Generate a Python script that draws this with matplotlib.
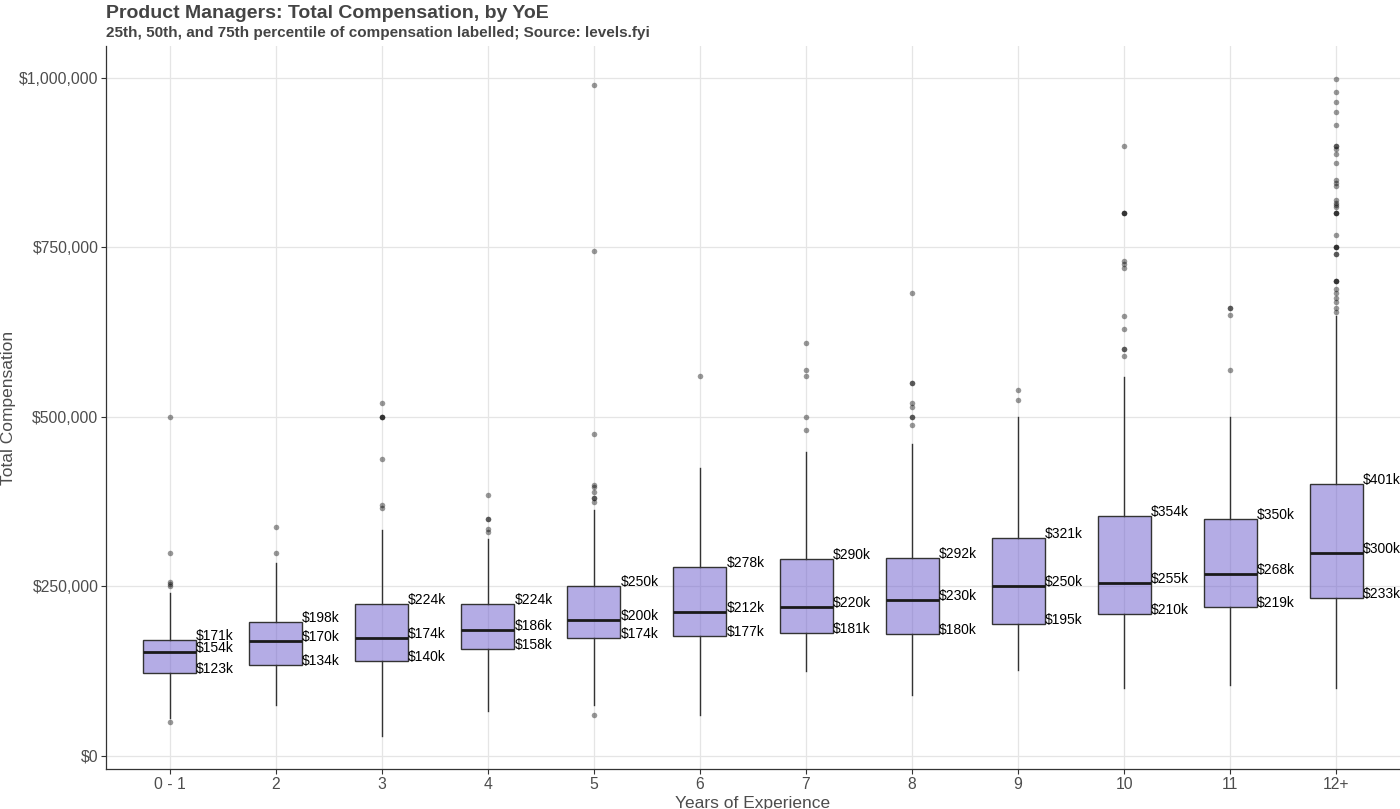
import matplotlib
matplotlib.use("Agg")
import matplotlib.pyplot as plt
import matplotlib.ticker as mtick

plt.rcParams['font.family'] = ['Liberation Sans', 'DejaVu Sans']

# years of experience groups
categories = ['0 - 1', '2', '3', '4', '5', '6', '7', '8', '9', '10', '11', '12+']

# box stats in $k
q1 = [123, 134, 140, 158, 174, 177, 181, 180, 195, 210, 219, 233]
med = [154, 170, 174, 186, 200, 212, 220, 230, 250, 255, 268, 300]
q3 = [171, 198, 224, 224, 250, 278, 290, 292, 321, 354, 350, 401]
whisker_lo = [56, 75, 30, 66, 75, 60, 125, 90, 127, 100, 105, 100]
whisker_hi = [240, 285, 333, 320, 363, 424, 448, 460, 500, 559, 500, 649]

# outliers in $k
fliers = [
    [500, 300, 256, 253, 250, 50],
    [338, 300],
    [520, 500, 500, 500, 438, 370, 365],
    [385, 350, 350, 335, 330],
    [990, 745, 475, 400, 396, 390, 380, 380, 375, 60],
    [560],
    [609, 569, 560, 500, 480],
    [683, 550, 550, 520, 514, 500, 500, 488],
    [540, 525],
    [900, 800, 800, 800, 730, 725, 720, 649, 630, 600, 600, 590],
    [660, 660, 650, 569],
    [998, 979, 964, 949, 930, 900, 900, 895, 887, 875, 850, 845, 840, 820,
     816, 813, 810, 800, 800, 800, 769, 750, 750, 750, 740, 740, 700, 700,
     700, 689, 683, 676, 670, 660, 655],
]

# build the stats bxp wants
stats = []
for i in range(len(categories)):
    stats.append({
        'label': categories[i],
        'q1': q1[i] * 1000,
        'med': med[i] * 1000,
        'q3': q3[i] * 1000,
        'whislo': whisker_lo[i] * 1000,
        'whishi': whisker_hi[i] * 1000,
        'fliers': [f * 1000 for f in fliers[i]],
    })

fig = plt.figure(figsize=(14, 8.09), dpi=100)
ax = fig.add_axes([106 / 1400, 1 - 769 / 809, 1 - 106 / 1400, (769 - 46) / 809])

positions = list(range(1, len(categories) + 1))
ax.bxp(stats, positions=positions, widths=0.5, patch_artist=True,
       showcaps=False,
       boxprops=dict(facecolor=(106 / 255, 90 / 255, 205 / 255, 0.5),
                     edgecolor='#333333', linewidth=1.0),
       medianprops=dict(color='#1a1a1a', linewidth=2.0),
       whiskerprops=dict(color='#333333', linewidth=1.0),
       flierprops=dict(marker='o', markersize=4, markerfacecolor='black',
                       markeredgecolor='none', alpha=0.4),
       zorder=3)

# percentile labels at right edge of each box
for i, x in enumerate(positions):
    for v in (q1[i], med[i], q3[i]):
        ax.text(x + 0.25, v * 1000, f'${v}k', fontsize=10, color='black',
                ha='left', va='baseline', zorder=4)

ax.set_xlim(0.4, 12.6)
ax.set_ylim(-19200, 1047000)
ax.set_xticks(positions)
ax.set_xticklabels(categories)
ax.set_yticks([0, 250000, 500000, 750000, 1000000])
ax.yaxis.set_major_formatter(mtick.StrMethodFormatter('${x:,.0f}'))

ax.grid(True, color='#e5e5e5', linewidth=0.9)
ax.set_axisbelow(True)
for side in ('top', 'right'):
    ax.spines[side].set_visible(False)
for side in ('left', 'bottom'):
    ax.spines[side].set_color('#333333')
    ax.spines[side].set_linewidth(0.9)
ax.tick_params(length=3.5, width=0.8, color='#333333', labelcolor='#4d4d4d',
               labelsize=11.3, pad=2)

ax.set_xlabel('Years of Experience', fontsize=12.5, color='#4d4d4d', labelpad=3)
ax.set_ylabel('Total Compensation', fontsize=12.5, color='#4d4d4d')
ax.yaxis.set_label_coords(-0.0695, 0.5)

fig.text(106 / 1400, 1 - 18.5 / 809, 'Product Managers: Total Compensation, by YoE',
         fontsize=14, fontweight='bold', color='#444444', ha='left', va='baseline')
fig.text(106 / 1400, 1 - 37.5 / 809,
         '25th, 50th, and 75th percentile of compensation labelled; Source: levels.fyi',
         fontsize=11, fontweight='bold', color='#444444', ha='left', va='baseline')

fig.savefig('out.png', dpi=100)
